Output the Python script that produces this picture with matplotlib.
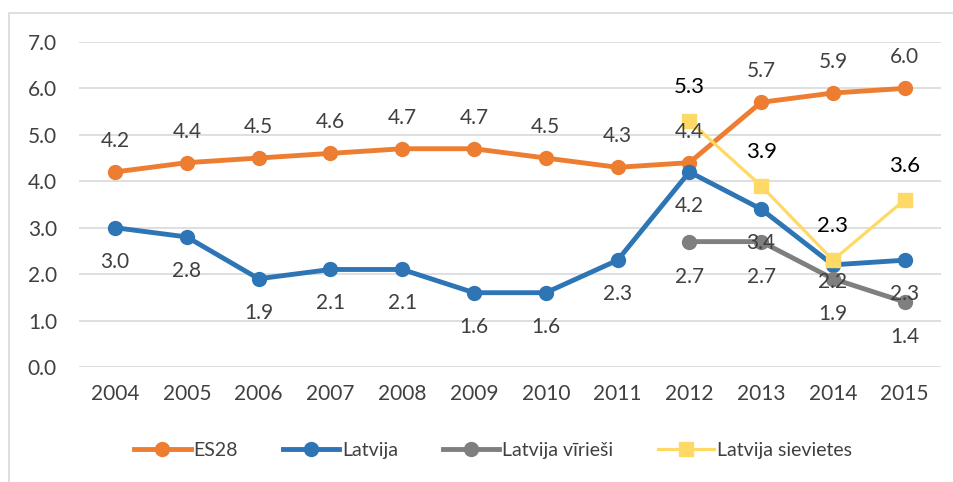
import matplotlib
matplotlib.use('Agg')
import matplotlib.pyplot as plt
from matplotlib.patches import Rectangle

plt.rcParams['font.family'] = ['Lato', 'DejaVu Sans']

years = ['2004', '2005', '2006', '2007', '2008', '2009', '2010', '2011', '2012', '2013', '2014', '2015']
es28 = [4.2, 4.4, 4.5, 4.6, 4.7, 4.7, 4.5, 4.3, 4.4, 5.7, 5.9, 6.0]
latvija = [3.0, 2.8, 1.9, 2.1, 2.1, 1.6, 1.6, 2.3, 4.2, 3.4, 2.2, 2.3]
viriesi_years = ['2012', '2013', '2014', '2015']
viriesi = [2.7, 2.7, 1.9, 1.4]
sievietes_years = ['2012', '2013', '2014', '2015']
sievietes = [5.3, 3.9, 2.3, 3.6]

txt = '#404040'

fig = plt.figure(figsize=(9.54, 4.82), dpi=100)
ax = fig.add_axes([0.083, 0.2386, 0.903, 0.6744])

# outer frame like the excel chart area
fig.patches.append(Rectangle((9 / 954, -0.1), 1.2, 1 - 13 / 482 + 0.1, transform=fig.transFigure,
                             fill=False, edgecolor='#d9d9d9', linewidth=1.2))

x = list(range(len(years)))
xv = [years.index(y) for y in viriesi_years]
xs = [years.index(y) for y in sievietes_years]

ax.plot(x, es28, '-o', color='#ED7D31', lw=3.5, ms=10, label='ES28', zorder=3)
ax.plot(x, latvija, '-o', color='#2E75B6', lw=3.5, ms=10, label='Latvija', zorder=3)
ax.plot(xv, viriesi, '-o', color='#7F7F7F', lw=3.5, ms=10, label='Latvija vīrieši', zorder=3)
ax.plot(xs, sievietes, '-s', color='#FFD966', lw=2.3, ms=10.5, label='Latvija sievietes', zorder=3)

def label(xs_, ys_, dy, color, size, moved=None):
    moved = moved or {}
    for xi, yi in zip(xs_, ys_):
        ax.annotate(f'{yi:.1f}', (xi, yi), xytext=(0, moved.get(xi, dy)), textcoords='offset pixels',
                    ha='center', va='center', color=color, fontsize=size, zorder=5)

label(x, es28, 31, txt, 15)
label(x, latvija, -34, txt, 15, moved={10: -17})  # 2014 label sits closer in the original
label(xv, viriesi, -35, txt, 15)
label(xs, sievietes, 34, 'black', 16)

ax.set_xlim(-0.5, len(years) - 0.5)
ax.set_ylim(0, 7)
ax.set_yticks([i for i in range(8)])
ax.set_yticklabels([f'{i:.1f}' for i in range(8)], color=txt, fontsize=15)
ax.set_xticks(x)
ax.set_xticklabels(years, color=txt, fontsize=15)
ax.tick_params(axis='x', length=0, pad=12)
ax.tick_params(axis='y', length=0, pad=16)
ax.grid(axis='y', color='#d9d9d9', lw=1.2)
ax.set_axisbelow(True)
for s in ax.spines.values():
    s.set_visible(False)

fig.legend(loc='center', bbox_to_anchor=(0.517, 0.065), ncol=4, frameon=False,
           handlelength=2.9, columnspacing=2.3, handletextpad=0.15, labelcolor=txt,
           prop={'size': 14})

fig.savefig('out.png', dpi=100)
